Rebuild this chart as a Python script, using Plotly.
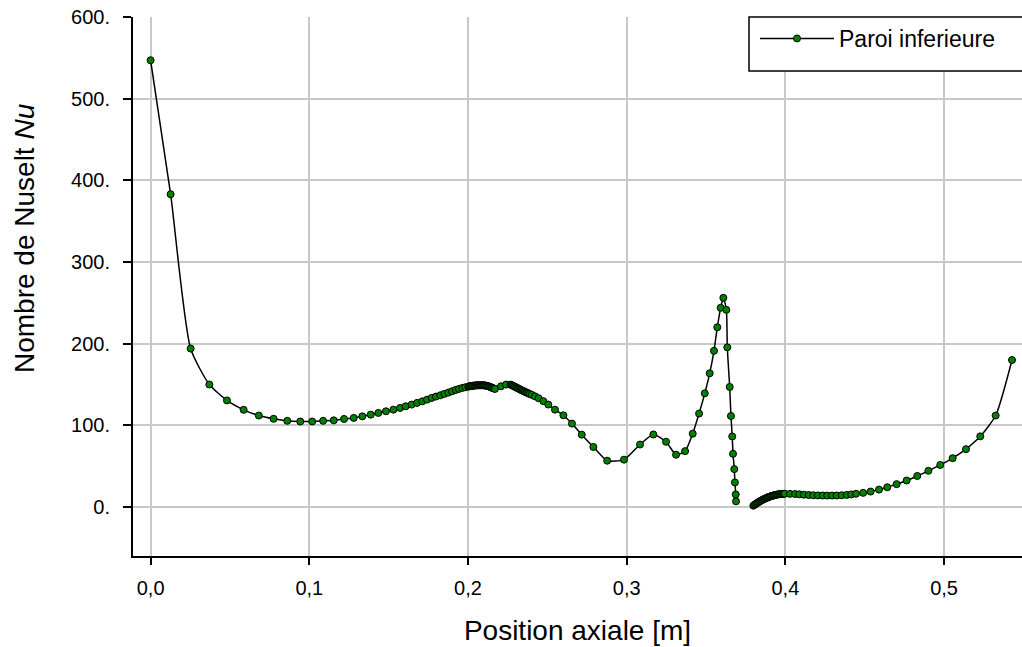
import plotly.graph_objects as go

# ---- data ----
# first part of the lower wall (x in m, Nusselt number)
x_seg1 = [
    0.0000, 0.0126, 0.0252, 0.0370, 0.0481, 0.0586, 0.0682, 0.0775, 0.0861, 0.0943,
    0.1018, 0.1087, 0.1154, 0.1219, 0.1280, 0.1334, 0.1387, 0.1435, 0.1483, 0.1530,
    0.1572, 0.1607, 0.1645, 0.1679, 0.1712, 0.1742, 0.1771, 0.1798, 0.1826, 0.1851,
    0.1876, 0.1899, 0.1923, 0.1943, 0.1964, 0.1983, 0.2002,
    0.2008, 0.2014, 0.2020, 0.2026, 0.2032, 0.2038, 0.2044, 0.2050, 0.2056, 0.2062,
    0.2068, 0.2074, 0.2080, 0.2086, 0.2092, 0.2098, 0.2104, 0.2110, 0.2116, 0.2122,
    0.2128, 0.2134, 0.2140, 0.2146, 0.2152, 0.2158, 0.2164, 0.2170,
    0.2208, 0.2240, 0.2268,
    0.2275, 0.2282, 0.2289, 0.2296, 0.2303, 0.2310, 0.2317, 0.2324, 0.2331, 0.2338,
    0.2345, 0.2352, 0.2359, 0.2366, 0.2373, 0.2380, 0.2390, 0.2402, 0.2422, 0.2445,
    0.2475, 0.2506, 0.2548, 0.2601, 0.2655, 0.2717,
    0.2790, 0.2877, 0.2983, 0.3084, 0.3168, 0.3248, 0.3311, 0.3368, 0.3416, 0.3456,
    0.3492, 0.3523, 0.3550, 0.3571, 0.3592, 0.3609, 0.3628, 0.3634, 0.3649, 0.3657,
    0.3665, 0.3670, 0.3678, 0.3682, 0.3687, 0.3689,
]
nu_seg1 = [
    547.0, 383.0, 194.0, 150.0, 130.5, 119.0, 112.0, 108.0, 105.5, 104.7,
    104.7, 105.5, 106.1, 107.8, 109.1, 111.0, 113.1, 115.2, 117.2, 119.2,
    121.3, 123.3, 125.4, 127.5, 129.4, 131.5, 133.6, 135.2, 136.8, 138.5,
    140.1, 141.7, 143.4, 144.6, 145.8, 146.6, 147.4,
    147.7, 148.0, 148.2, 148.4, 148.5, 148.6, 148.8, 148.9, 149.0, 149.0,
    149.1, 149.1, 149.1, 149.1, 149.0, 149.0, 148.9, 148.7, 148.5, 148.2,
    147.9, 147.5, 147.0, 146.5, 146.0, 145.5, 145.0, 144.6,
    147.8, 149.9, 149.9,
    149.3, 148.6, 147.9, 147.2, 146.5, 145.8, 145.1, 144.4, 143.7, 143.0,
    142.3, 141.7, 141.0, 140.4, 139.8, 139.2, 138.3, 137.3, 135.5, 133.2,
    129.6, 125.4, 119.2, 112.3, 102.1, 88.6,
    73.5, 56.7, 58.0, 76.5, 88.8, 79.9, 64.0, 68.4, 89.8, 114.4,
    139.2, 163.7, 191.2, 220.1, 243.9, 256.1, 241.4, 195.5, 147.0, 111.4,
    86.4, 65.1, 46.4, 30.1, 15.4, 6.9,
]

# second part of the lower wall
x_seg2 = [
    0.3798, 0.3804, 0.3810, 0.3816, 0.3822, 0.3828, 0.3834, 0.3840, 0.3846, 0.3852,
    0.3858, 0.3864, 0.3870, 0.3876, 0.3882, 0.3888, 0.3894, 0.3900, 0.3906, 0.3912,
    0.3918, 0.3924, 0.3930, 0.3936, 0.3942, 0.3948, 0.3954, 0.3960, 0.3966, 0.3972,
    0.3978, 0.3984, 0.3990, 0.3996,
    0.4029, 0.4061, 0.4088, 0.4117, 0.4147, 0.4176, 0.4205, 0.4235, 0.4264,
    0.4294, 0.4323, 0.4355, 0.4386, 0.4415, 0.4445, 0.4490, 0.4537, 0.4590, 0.4642,
    0.4701, 0.4764, 0.4831, 0.4901, 0.4976, 0.5054, 0.5138, 0.5228, 0.5325, 0.5428,
]
nu_seg2 = [
    1.6, 2.5, 3.3, 4.1, 4.9, 5.6, 6.4, 7.1, 7.7, 8.4,
    9.0, 9.6, 10.1, 10.7, 11.2, 11.7, 12.1, 12.6, 13.0, 13.4,
    13.7, 14.1, 14.4, 14.7, 14.9, 15.2, 15.4, 15.6, 15.8, 15.9,
    16.0, 16.1, 16.2, 16.2,
    16.1, 15.9, 15.5, 15.1, 14.7, 14.4, 14.2, 14.1, 14.0,
    14.0, 14.1, 14.4, 14.8, 15.4, 16.2, 17.3, 18.9, 21.3, 24.2,
    28.0, 32.4, 38.0, 44.3, 51.5, 59.8, 70.8, 86.5, 112.0, 180.0,
]

x_ticks = [0.0, 0.1, 0.2, 0.3, 0.4, 0.5]
x_tick_text = ["0,0", "0,1", "0,2", "0,3", "0,4", "0,5"]
y_ticks = [0, 100, 200, 300, 400, 500, 600]
y_tick_text = ["0.", "100.", "200.", "300.", "400.", "500.", "600."]

series_name = "Paroi inferieure"
x_title = "Position axiale [m]"
y_title = "Nombre de Nuselt <i>Nu</i>"

# ---- figure ----
x_all = x_seg1 + [None] + x_seg2
y_all = nu_seg1 + [None] + nu_seg2

FONT = "Liberation Sans, Arial, sans-serif"
W, H = 1022, 647
ML, MR, MT, MB = 133, 0, 17, 91
PW, PH = W - ML - MR, H - MT - MB

fig = go.Figure()
fig.add_trace(go.Scatter(
    x=x_all, y=y_all, name=series_name, mode="lines+markers",
    line=dict(color="black", width=1.5, shape="spline", smoothing=0.6),
    marker=dict(size=7, color="#008000", line=dict(color="black", width=1)),
    connectgaps=False,
))

grid = "#c8c8c8"
fig.update_layout(
    width=W, height=H,
    margin=dict(l=ML, r=MR, t=MT, b=MB, pad=0),
    paper_bgcolor="white", plot_bgcolor="white",
    font=dict(family=FONT, color="black"),
    showlegend=True,
    legend=dict(
        x=(755 - ML) / PW, xanchor="left",
        y=1.0, yanchor="top",
        bgcolor="rgba(0,0,0,0)", borderwidth=0,
        font=dict(size=23, family=FONT, color="black"),
        itemwidth=74,
    ),
    xaxis=dict(
        range=[-0.0111, 0.5491],
        tickvals=x_ticks, ticktext=x_tick_text,
        showgrid=True, gridcolor=grid, gridwidth=1.5,
        zeroline=False,
        showline=True, linecolor="black", linewidth=2,
        ticks="outside", ticklen=7, tickwidth=1.5, tickcolor="black",
        tickfont=dict(size=20, family=FONT, color="black"),
        ticklabelstandoff=6,
        title=dict(text=x_title, font=dict(size=28, family=FONT, color="black"), standoff=22),
    ),
    yaxis=dict(
        range=[-60, 600],
        tickvals=y_ticks, ticktext=y_tick_text,
        showgrid=True, gridcolor=grid, gridwidth=1.5,
        zeroline=False,
        showline=True, linecolor="black", linewidth=2,
        ticks="outside", ticklen=8, tickwidth=1.5, tickcolor="black",
        tickfont=dict(size=20, family=FONT, color="black"),
        ticklabelstandoff=9,
    ),
    shapes=[
        dict(type="rect", xref="paper", yref="paper",
             x0=(749 - ML) / PW, x1=(1040 - ML) / PW,
             y0=1.0, y1=1 - (71 - MT) / PH,
             line=dict(color="black", width=1.5), fillcolor="white", layer="above"),
    ],
    annotations=[
        dict(text=y_title, xref="paper", yref="paper",
             x=(24 - ML) / PW, y=(H - MB - 238) / PH,
             xanchor="center", yanchor="middle", textangle=-90, showarrow=False,
             font=dict(size=28, family=FONT, color="black")),
    ],
)

fig.write_html("out.html")
